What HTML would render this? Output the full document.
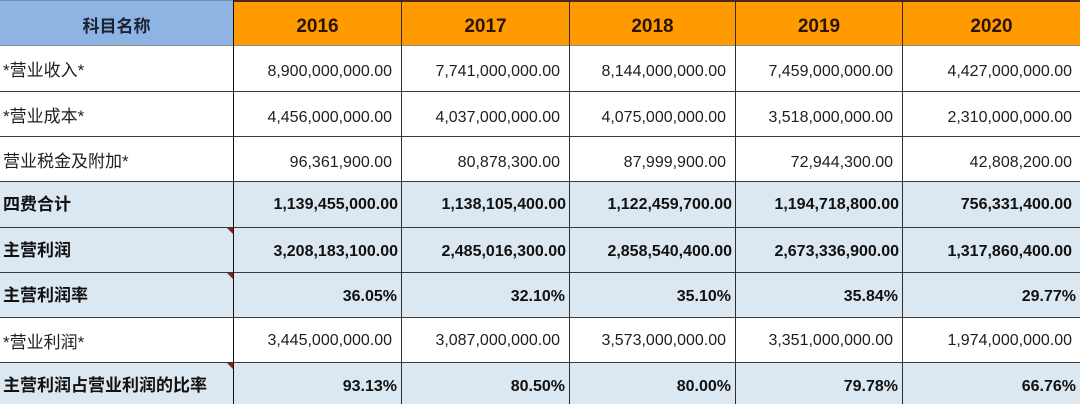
<!DOCTYPE html>
<html>
<head>
<meta charset="utf-8">
<style>
  html,body{margin:0;padding:0;}
  body{width:1080px;height:404px;overflow:hidden;background:#fff;position:relative;
    font-family:"Liberation Sans","Noto Sans CJK SC",sans-serif;}
  .bg{position:absolute;}
  .h{position:absolute;left:0;width:1080px;height:1px;background:#3a3a3a;}
  .v{position:absolute;top:0;width:1px;height:404px;background:#2e2e2e;}
  .c{position:absolute;display:flex;align-items:center;box-sizing:border-box;white-space:nowrap;}
  .l{justify-content:flex-start;padding-left:3px;font-size:17px;color:#1e1e1e;}
  .r{justify-content:flex-end;font-size:16px;color:#1e1e1e;}
  .b{font-weight:bold;color:#111;}
  .hd{justify-content:center;font-weight:bold;}
  .d3{padding-top:7px;}
  .d1{padding-top:2px;}
  .bn{padding-top:4px;}
  .bl{padding-bottom:4px;}
  .yr{padding-top:8px;}
  .hl{padding-top:4px;}
  .tri{position:absolute;width:0;height:0;border-left:6px solid transparent;border-top:6px solid #8b1e1e;}
</style>
</head>
<body>
<!-- header backgrounds -->
<div class="bg" style="left:0;top:0;width:233px;height:45px;background:#8db4e2;"></div>
<div class="bg" style="left:234px;top:0;width:846px;height:45px;background:#ff9b00;"></div>
<!-- light blue rows -->
<div class="bg" style="left:0;top:182px;width:1080px;height:135px;background:#dce8f1;"></div>
<div class="bg" style="left:0;top:363px;width:1080px;height:41px;background:#dce8f1;"></div>

<!-- top border -->
<div class="bg" style="left:0;top:0;width:233px;height:1px;background:#6f8fb8;"></div>
<div class="bg" style="left:234px;top:0;width:846px;height:2px;background:#4a2a10;"></div>

<!-- horizontal lines -->
<div class="h" style="top:45px;background:#8a8a8a;"></div>
<div class="h" style="top:91px;"></div>
<div class="h" style="top:136px;"></div>
<div class="h" style="top:181px;"></div>
<div class="h" style="top:227px;"></div>
<div class="h" style="top:272px;"></div>
<div class="h" style="top:317px;"></div>
<div class="h" style="top:362px;"></div>

<!-- vertical lines -->
<div class="v" style="left:233px;background:#111;"></div>
<div class="v" style="left:401px;"></div>
<div class="v" style="left:569px;"></div>
<div class="v" style="left:735px;"></div>
<div class="v" style="left:902px;"></div>

<!-- comment triangles -->
<div class="tri" style="left:227px;top:228px;"></div>
<div class="tri" style="left:227px;top:273px;"></div>
<div class="tri" style="left:227px;top:363px;"></div>

<!-- header -->
<div class="c hd hl" style="left:0;top:0;width:233px;height:45px;font-size:17px;color:#1b2233;">科目名称</div>
<div class="c hd yr" style="left:234px;top:0;width:167px;height:45px;font-size:19px;color:#2a140a;">2016</div>
<div class="c hd yr" style="left:402px;top:0;width:167px;height:45px;font-size:19px;color:#2a140a;">2017</div>
<div class="c hd yr" style="left:570px;top:0;width:165px;height:45px;font-size:19px;color:#2a140a;">2018</div>
<div class="c hd yr" style="left:736px;top:0;width:166px;height:45px;font-size:19px;color:#2a140a;">2019</div>
<div class="c hd yr" style="left:903px;top:0;width:177px;height:45px;font-size:19px;color:#2a140a;">2020</div>

<!-- Row 1 -->
<div class="c l" style="left:0;top:46px;width:233px;height:45px;">*营业收入*</div>
<div class="c r d3" style="left:234px;top:46px;width:167px;height:45px;padding-right:9px;">8,900,000,000.00</div>
<div class="c r d3" style="left:402px;top:46px;width:167px;height:45px;padding-right:9px;">7,741,000,000.00</div>
<div class="c r d3" style="left:570px;top:46px;width:165px;height:45px;padding-right:9px;">8,144,000,000.00</div>
<div class="c r d3" style="left:736px;top:46px;width:166px;height:45px;padding-right:9px;">7,459,000,000.00</div>
<div class="c r d3" style="left:903px;top:46px;width:177px;height:45px;padding-right:8px;">4,427,000,000.00</div>

<!-- Row 2 -->
<div class="c l" style="left:0;top:92px;width:233px;height:44px;">*营业成本*</div>
<div class="c r d3" style="left:234px;top:92px;width:167px;height:44px;padding-right:9px;">4,456,000,000.00</div>
<div class="c r d3" style="left:402px;top:92px;width:167px;height:44px;padding-right:9px;">4,037,000,000.00</div>
<div class="c r d3" style="left:570px;top:92px;width:165px;height:44px;padding-right:9px;">4,075,000,000.00</div>
<div class="c r d3" style="left:736px;top:92px;width:166px;height:44px;padding-right:9px;">3,518,000,000.00</div>
<div class="c r d3" style="left:903px;top:92px;width:177px;height:44px;padding-right:8px;">2,310,000,000.00</div>

<!-- Row 3 -->
<div class="c l" style="left:0;top:137px;width:233px;height:44px;">营业税金及附加*</div>
<div class="c r d3" style="left:234px;top:137px;width:167px;height:44px;padding-right:9px;">96,361,900.00</div>
<div class="c r d3" style="left:402px;top:137px;width:167px;height:44px;padding-right:9px;">80,878,300.00</div>
<div class="c r d3" style="left:570px;top:137px;width:165px;height:44px;padding-right:9px;">87,999,900.00</div>
<div class="c r d3" style="left:736px;top:137px;width:166px;height:44px;padding-right:9px;">72,944,300.00</div>
<div class="c r d3" style="left:903px;top:137px;width:177px;height:44px;padding-right:8px;">42,808,200.00</div>

<!-- Row 4 -->
<div class="c l b bl" style="left:0;top:182px;width:233px;height:45px;">四费合计</div>
<div class="c r b" style="left:234px;top:182px;width:167px;height:45px;padding-right:3px;">1,139,455,000.00</div>
<div class="c r b" style="left:402px;top:182px;width:167px;height:45px;padding-right:3px;">1,138,105,400.00</div>
<div class="c r b" style="left:570px;top:182px;width:165px;height:45px;padding-right:3px;">1,122,459,700.00</div>
<div class="c r b" style="left:736px;top:182px;width:166px;height:45px;padding-right:3px;">1,194,718,800.00</div>
<div class="c r b" style="left:903px;top:182px;width:177px;height:45px;padding-right:8px;">756,331,400.00</div>

<!-- Row 5 -->
<div class="c l b bl" style="left:0;top:228px;width:233px;height:44px;">主营利润</div>
<div class="c r b bn" style="left:234px;top:228px;width:167px;height:44px;padding-right:3px;">3,208,183,100.00</div>
<div class="c r b bn" style="left:402px;top:228px;width:167px;height:44px;padding-right:3px;">2,485,016,300.00</div>
<div class="c r b bn" style="left:570px;top:228px;width:165px;height:44px;padding-right:3px;">2,858,540,400.00</div>
<div class="c r b bn" style="left:736px;top:228px;width:166px;height:44px;padding-right:3px;">2,673,336,900.00</div>
<div class="c r b bn" style="left:903px;top:228px;width:177px;height:44px;padding-right:8px;">1,317,860,400.00</div>

<!-- Row 6 -->
<div class="c l b bl" style="left:0;top:273px;width:233px;height:44px;">主营利润率</div>
<div class="c r b bn" style="left:234px;top:273px;width:167px;height:44px;padding-right:4px;">36.05%</div>
<div class="c r b bn" style="left:402px;top:273px;width:167px;height:44px;padding-right:4px;">32.10%</div>
<div class="c r b bn" style="left:570px;top:273px;width:165px;height:44px;padding-right:4px;">35.10%</div>
<div class="c r b bn" style="left:736px;top:273px;width:166px;height:44px;padding-right:4px;">35.84%</div>
<div class="c r b bn" style="left:903px;top:273px;width:177px;height:44px;padding-right:4px;">29.77%</div>

<!-- Row 7 -->
<div class="c l" style="left:0;top:318px;width:233px;height:44px;">*营业利润*</div>
<div class="c r d1" style="left:234px;top:318px;width:167px;height:44px;padding-right:9px;">3,445,000,000.00</div>
<div class="c r d1" style="left:402px;top:318px;width:167px;height:44px;padding-right:9px;">3,087,000,000.00</div>
<div class="c r d1" style="left:570px;top:318px;width:165px;height:44px;padding-right:9px;">3,573,000,000.00</div>
<div class="c r d1" style="left:736px;top:318px;width:166px;height:44px;padding-right:9px;">3,351,000,000.00</div>
<div class="c r d1" style="left:903px;top:318px;width:177px;height:44px;padding-right:8px;">1,974,000,000.00</div>

<!-- Row 8 -->
<div class="c l b bl" style="left:0;top:363px;width:233px;height:44px;">主营利润占营业利润的比率</div>
<div class="c r b bn" style="left:234px;top:363px;width:167px;height:44px;padding-right:4px;">93.13%</div>
<div class="c r b bn" style="left:402px;top:363px;width:167px;height:44px;padding-right:4px;">80.50%</div>
<div class="c r b bn" style="left:570px;top:363px;width:165px;height:44px;padding-right:4px;">80.00%</div>
<div class="c r b bn" style="left:736px;top:363px;width:166px;height:44px;padding-right:4px;">79.78%</div>
<div class="c r b bn" style="left:903px;top:363px;width:177px;height:44px;padding-right:4px;">66.76%</div>
</body>
</html>
